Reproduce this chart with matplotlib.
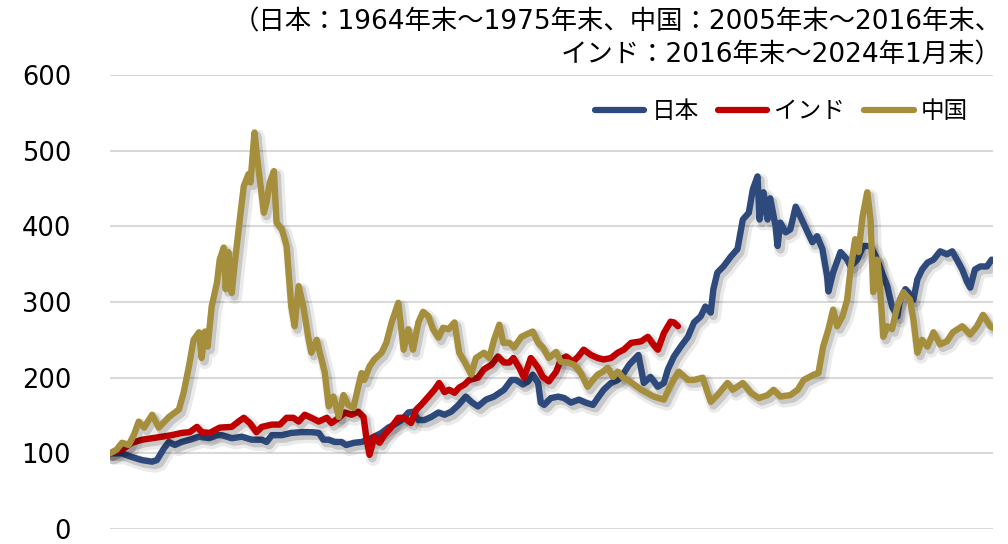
import matplotlib
matplotlib.use("Agg")
import matplotlib.pyplot as plt
import matplotlib.patheffects as pe

# months elapsed since the start of each period, and index values (start = 100)
japan_month = [
    0, 1.8, 3.3, 4.8, 6.3, 7.0, 8.1, 8.8, 9.7, 10.7,
    11.9, 13.3, 14.8, 16.0, 16.7, 18.2, 19.7, 21.2, 22.7, 23.4,
    24.2, 25.7, 27.1, 28.6, 30.1, 31.2, 31.9, 32.7, 33.6, 34.6,
    35.3, 36.5, 37.6, 38.6, 39.5, 40.6, 41.6, 42.5, 43.6, 44.6,
    45.3, 46.1, 47.0, 48.0, 49.1, 50.0, 51.0, 52.1, 53.2, 54.0,
    55.0, 56.2, 57.4, 58.9, 60.0, 60.7, 61.7, 62.5, 63.2, 64.0,
    64.4, 64.9, 65.9, 67.0, 67.9, 68.9, 70.1, 71.1, 72.2, 72.9,
    73.8, 74.9, 75.9, 76.8, 77.6, 79.0, 79.8, 80.8, 81.9, 82.8,
    83.4, 84.3, 85.3, 86.4, 87.3, 88.3, 89.0, 89.8, 90.2, 90.8,
    91.7, 92.8, 93.8, 94.6, 95.5, 96.1, 96.8, 97.1, 97.7, 98.3,
    98.7, 99.5, 99.8, 100.2, 101.0, 101.7, 102.5, 103.2, 104.3, 105.0,
    105.7, 106.5, 107.2, 107.4, 108.1, 109.2, 110.2, 110.7, 111.7, 112.6,
    113.7, 114.7, 115.4, 116.2, 116.9, 117.7, 118.1, 118.9, 119.3, 120.1,
    120.7, 121.4, 122.2, 123.1, 124.1, 125.1, 125.9, 126.6, 127.4, 128.1,
    128.6, 129.3, 130.1, 131.1, 131.8,
]
japan_value = [
    100, 100, 95, 91, 89, 91, 107, 115, 111, 115,
    118, 122, 120, 124, 124, 120, 122, 118, 118, 115,
    124, 124, 127, 128, 128, 127, 118, 118, 115, 115,
    111, 114, 115, 118, 122, 127, 134, 138, 144, 154,
    155, 144, 144, 148, 154, 151, 155, 164, 175, 168,
    162, 171, 175, 184, 197, 197, 191, 195, 204, 193,
    167, 164, 173, 175, 173, 167, 171, 167, 164, 173,
    184, 193, 197, 206, 217, 230, 193, 201, 188, 193,
    211, 228, 241, 254, 273, 281, 294, 286, 317, 339,
    347, 360, 370, 409, 418, 449, 466, 409, 445, 409,
    437, 400, 374, 405, 392, 396, 426, 413, 392, 379,
    387, 370, 334, 314, 339, 366, 356, 347, 356, 374,
    374, 356, 339, 321, 294, 281, 303, 317, 313, 303,
    330, 343, 352, 356, 367, 363, 367, 356, 343, 327,
    319, 343, 347, 347, 356,
]

india_month = [
    0, 1.8, 3.3, 4.8, 6.3, 7.8, 9.2, 10.7, 11.9, 13.0,
    13.7, 14.9, 16.4, 18.2, 19.2, 20.0, 20.9, 21.9, 22.7, 24.2,
    25.4, 26.4, 27.4, 28.2, 29.1, 30.1, 31.2, 32.4, 33.1, 34.2,
    35.1, 36.1, 37.1, 37.9, 38.3, 38.8, 39.5, 40.3, 41.0, 42.1,
    43.1, 44.0, 45.0, 45.8, 46.5, 47.6, 48.5, 49.2, 50.0, 50.7,
    51.5, 52.2, 53.0, 53.7, 55.0, 55.9, 57.0, 58.0, 58.9, 59.7,
    60.3, 61.2, 61.9, 62.9, 64.0, 64.7, 65.6, 66.7, 67.4, 68.2,
    69.2, 70.0, 70.8, 71.9, 72.9, 73.8, 74.9, 75.9, 76.8, 77.9,
    79.4, 80.4, 81.3, 81.9, 82.8, 83.8, 84.3, 84.9,
]
india_value = [
    100, 105, 114, 118, 120, 122, 124, 127, 128, 135,
    128, 127, 134, 135, 142, 147, 140, 128, 135, 138,
    138, 147, 147, 142, 151, 147, 142, 147, 140, 147,
    154, 151, 155, 148, 122, 98, 122, 114, 124, 135,
    147, 147, 140, 158, 164, 175, 184, 193, 181, 184,
    180, 187, 191, 197, 200, 211, 217, 228, 220, 220,
    226, 213, 200, 226, 213, 201, 195, 208, 224, 228,
    221, 228, 237, 230, 226, 224, 226, 233, 237, 246,
    248, 254, 243, 237, 259, 274, 273, 268,
]

china_month = [
    0, 1.0, 1.8, 2.8, 3.6, 4.3, 5.1, 6.3, 7.3, 8.8,
    10.3, 11.0, 11.8, 12.5, 13.3, 13.7, 14.2, 14.6, 15.2, 16.0,
    16.4, 17.0, 17.3, 17.7, 18.2, 18.6, 19.4, 20.0, 20.7, 21.0,
    21.6, 21.9, 22.4, 23.0, 23.4, 23.9, 24.5, 24.9, 25.7, 26.4,
    27.1, 27.6, 28.2, 28.9, 29.7, 30.1, 30.9, 31.6, 32.1, 32.7,
    33.4, 34.2, 34.9, 35.6, 36.4, 37.1, 37.6, 38.0, 38.8, 39.5,
    40.6, 41.3, 42.1, 43.1, 43.9, 44.6, 45.3, 46.1, 46.8, 47.6,
    48.3, 49.1, 49.8, 50.6, 51.5, 52.2, 53.0, 54.0, 54.7, 55.9,
    56.7, 57.4, 58.2, 58.8, 59.7, 60.4, 61.5, 62.2, 63.2, 64.0,
    64.7, 65.6, 66.7, 67.4, 68.5, 69.4, 70.4, 71.4, 72.2, 72.9,
    73.7, 74.4, 75.2, 75.9, 76.7, 77.4, 79.4, 81.3, 82.8, 83.8,
    85.0, 86.4, 87.3, 88.6, 89.8, 90.8, 92.3, 93.1, 94.6, 95.8,
    97.0, 98.3, 99.2, 100.2, 101.7, 102.8, 103.7, 105.2, 105.9, 106.6,
    107.4, 108.1, 108.7, 109.5, 110.2, 110.7, 111.4, 111.9, 112.5, 113.2,
    113.7, 114.1, 114.7, 115.1, 115.6, 116.2, 116.9, 117.7, 118.6, 119.6,
    120.1, 120.7, 121.4, 122.2, 123.1, 124.1, 125.1, 126.0, 127.4, 128.6,
    129.6, 130.5, 131.6, 132.0,
]
china_value = [
    100, 105, 114, 111, 125, 142, 134, 151, 134, 148,
    158, 180, 215, 250, 260, 226, 261, 241, 294, 326,
    356, 372, 317, 366, 312, 347, 409, 453, 469, 458,
    524, 498, 462, 418, 432, 458, 473, 405, 396, 374,
    294, 268, 321, 294, 250, 233, 250, 225, 207, 162,
    175, 148, 177, 164, 160, 188, 206, 197, 215, 224,
    233, 246, 273, 299, 237, 264, 237, 273, 287, 281,
    264, 253, 266, 264, 273, 233, 221, 204, 226, 233,
    226, 250, 270, 246, 246, 240, 254, 257, 261, 246,
    240, 226, 234, 221, 220, 217, 206, 188, 197, 204,
    208, 213, 201, 208, 200, 197, 184, 175, 171, 190,
    208, 197, 197, 200, 168, 177, 193, 184, 193, 180,
    173, 177, 184, 175, 177, 184, 197, 204, 206, 241,
    264, 290, 268, 281, 303, 343, 383, 366, 413, 445,
    409, 313, 356, 321, 254, 268, 264, 294, 313, 303,
    277, 233, 250, 241, 260, 244, 248, 260, 268, 257,
    268, 283, 268, 266,
]

series_names = ["日本", "インド", "中国"]
series_colors = ["#2E4A7C", "#C00000", "#A68F3C"]
y_ticks = [0, 100, 200, 300, 400, 500, 600]
note_lines = [
    "（日本：1964年末～1975年末、中国：2005年末～2016年末、",
    "インド：2016年末～2024年1月末）",
]

jp_font = ["Noto Sans CJK JP", "DejaVu Sans"]
note_font = ["DejaVu Sans", "Noto Sans CJK JP"]

fig = plt.figure(figsize=(10.08, 5.44), dpi=100)
ax = fig.add_axes([110 / 1008, 15 / 544, 883 / 1008, 454 / 544])

shadow = [
    pe.SimpleLineShadow(offset=(2.5, -3), shadow_color="black", alpha=0.08, linewidth=10),
    pe.SimpleLineShadow(offset=(2, -2.5), shadow_color="black", alpha=0.15, linewidth=6),
    pe.Normal(),
]

data = [(japan_month, japan_value), (india_month, india_value), (china_month, china_value)]
for (xs, ys), name, color in zip(data, series_names, series_colors):
    ax.plot(xs, ys, color=color, lw=4.6, label=name, solid_capstyle="round",
            solid_joinstyle="round", path_effects=shadow, zorder=3)

ax.set_xlim(0, 132)
ax.set_ylim(0, 600)
ax.set_yticks(y_ticks)
ax.set_xticks([])
ax.grid(axis="y", color="#D9D9D9", lw=1.5, zorder=0)
ax.set_axisbelow(True)
for s in ax.spines.values():
    s.set_visible(False)
ax.tick_params(axis="y", length=0, pad=28, labelsize=18.5, labelcolor="black")

leg = ax.legend(loc="center right", bbox_to_anchor=(968 / 1008, 1 - 112 / 544),
                bbox_transform=fig.transFigure, ncol=3, frameon=False,
                prop={"family": jp_font, "size": 17}, handlelength=2.1,
                handletextpad=0.3, columnspacing=0.8, borderaxespad=0, borderpad=0)
for h in leg.get_lines():
    h.set_linewidth(4.5)
    h.set_path_effects([])

fig.text(1002 / 1008, 1 - 22 / 544, note_lines[0], ha="right", va="center",
         family=note_font, fontsize=19)
fig.text(1002 / 1008, 1 - 55 / 544, note_lines[1], ha="right", va="center",
         family=note_font, fontsize=19)

fig.savefig("out.png", dpi=100)
